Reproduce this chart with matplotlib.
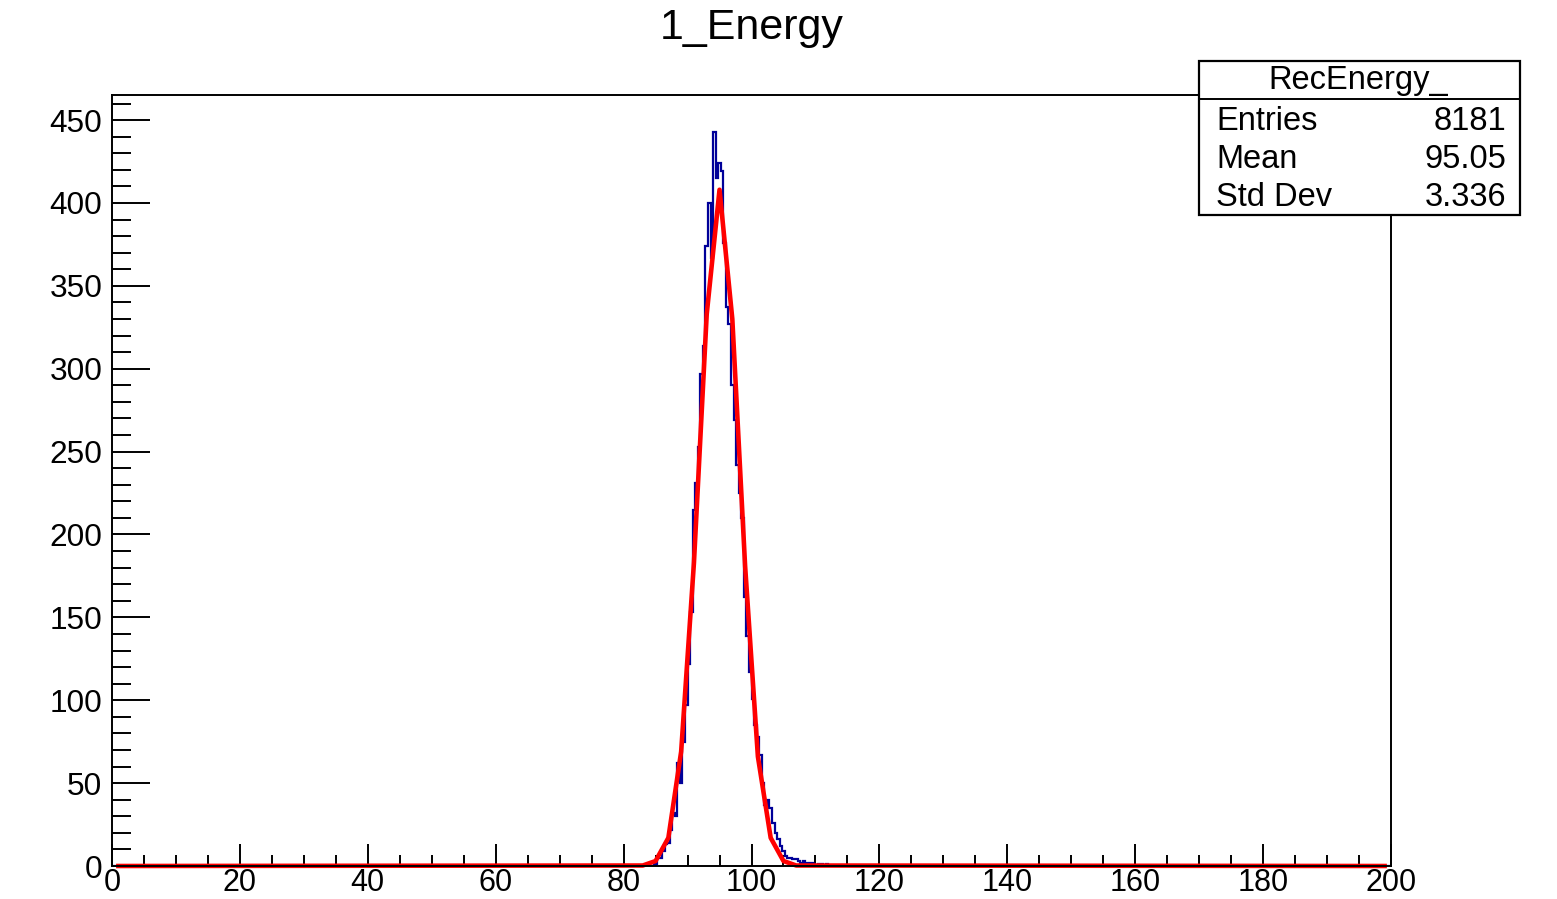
import matplotlib
matplotlib.use("Agg")
import matplotlib.pyplot as plt
import numpy as np
from matplotlib.patches import Rectangle
from matplotlib.ticker import MultipleLocator

plt.rcParams['font.family'] = ['Liberation Sans', 'DejaVu Sans']

# histogram: 500 bins of width 0.4 over 0..200, non-empty part starts at 84.0
bin_width = 0.4
x_min, x_max = 0.0, 200.0
first_bin_low = 84.0
counts_nonzero = [
    0, 0, 1, 5, 5, 9, 13, 14, 22, 32, 30, 62, 50, 75, 97, 122, 153, 215,
    231, 253, 297, 314, 374, 400, 367, 443, 415, 424, 419, 376, 337, 327,
    290, 269, 242, 225, 210, 162, 139, 117, 101, 85, 78, 67, 50, 37, 40,
    35, 26, 20, 16, 12, 9, 6, 5, 5, 4, 4, 3, 2, 3, 2, 1, 2, 1, 0, 1, 1, 0, 1,
]

# gaussian fit, as drawn (polyline vertices)
fit_x = [1, 83, 85, 87, 89, 91, 93, 95, 97, 99, 101, 103, 105, 107, 199]
fit_y = [0, 0.3, 3, 17, 69, 183, 333, 408, 330, 181, 66, 17, 3, 0.3, 0]

hist_name = "RecEnergy_"
stat_labels = ["Entries", "Mean", "Std Dev"]
stat_values = ["8181", "95.05", "3.336"]

n_bins = int(round((x_max - x_min) / bin_width))
edges = np.linspace(x_min, x_max, n_bins + 1)
counts = np.zeros(n_bins)
i0 = int(round((first_bin_low - x_min) / bin_width))
counts[i0:i0 + len(counts_nonzero)] = counts_nonzero

fig = plt.figure(figsize=(15.57, 8.99), dpi=100)
ax = fig.add_axes([112 / 1557, 1 - 866 / 899, (1391 - 112) / 1557, (866 - 95) / 899])

ax.stairs(counts, edges, color='#000099', linewidth=1.6, zorder=2)
ax.plot(fit_x, fit_y, color='#ff0000', linewidth=3.3, zorder=3, clip_on=False)

ax.set_xlim(x_min, x_max)
ax.set_ylim(0, max(counts_nonzero) * 1.05)

ax.xaxis.set_major_locator(MultipleLocator(20))
ax.xaxis.set_minor_locator(MultipleLocator(5))
ax.yaxis.set_major_locator(MultipleLocator(50))
ax.yaxis.set_minor_locator(MultipleLocator(10))
ax.tick_params(axis='both', which='both', direction='in', top=False, right=False,
               width=1.4, labelsize=22.8, colors='black')
ax.tick_params(axis='x', which='major', length=16, pad=1.5, labelsize=22)
ax.tick_params(axis='x', which='minor', length=8)
ax.tick_params(axis='y', which='major', length=27, pad=7)
ax.tick_params(axis='y', which='minor', length=14)
for sp in ax.spines.values():
    sp.set_linewidth(1.4)
    sp.set_zorder(5)

fig.text(752 / 1557, 1 - 28 / 899, "1_Energy", ha='center', va='center', fontsize=31)

# stats box
bx0, bx1 = 1199 / 1557, 1520 / 1557
by0, by1 = 1 - 215 / 899, 1 - 61 / 899
fig.add_artist(Rectangle((bx0, by0), bx1 - bx0, by1 - by0, transform=fig.transFigure,
                         facecolor='white', edgecolor='black', linewidth=1.6, zorder=10))
fig.add_artist(plt.Line2D([bx0, bx1], [1 - 99 / 899] * 2, transform=fig.transFigure,
                          color='black', linewidth=1.4, zorder=11))
fig.text(1358 / 1557, 1 - 80 / 899, hist_name, ha='center', va='center', fontsize=23.5, zorder=12)
for k, (lab, val) in enumerate(zip(stat_labels, stat_values)):
    yy = 1 - (121 + 38 * k) / 899
    fig.text(1216 / 1557, yy, lab, ha='left', va='center', fontsize=23.5, zorder=12)
    fig.text(1506 / 1557, yy, val, ha='right', va='center', fontsize=23.5, zorder=12)

fig.savefig("out.png", dpi=100)
